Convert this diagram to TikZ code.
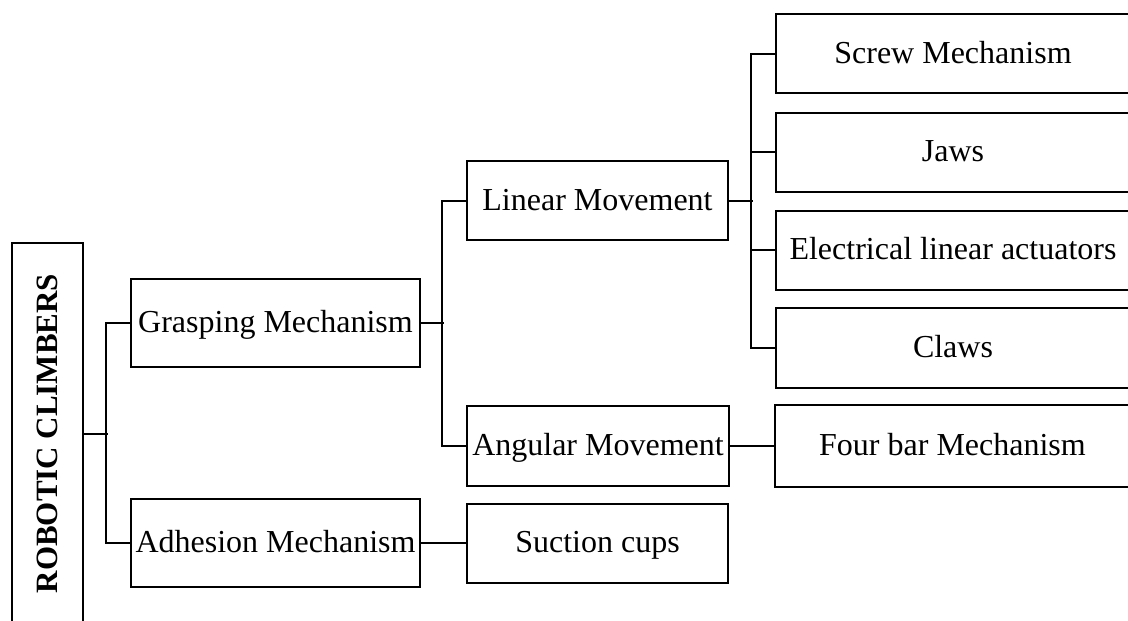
\documentclass[tikz,border=0pt]{standalone}
\usepackage{fontspec}
\setmainfont{Liberation Serif}
\begin{document}
\begin{tikzpicture}[x=1pt,y=-1pt,
  box/.style={draw, line width=2pt, inner sep=0pt, align=center, text height=24pt, text depth=5pt, font=\fontsize{32}{38}\selectfont},
  conn/.style={line width=2pt}]
\useasboundingbox (0,0) rectangle (1128,621);
\clip (0,0) rectangle (1128,621);
\fill[white] (0,0) rectangle (1128,621);
\node[draw, line width=2pt, inner sep=0pt, minimum width=71pt, minimum height=381pt] (root) at (47.5,433.5) {\rotatebox{90}{\fontsize{31}{36}\selectfont\bfseries ROBOTIC CLIMBERS}};
\node[box, minimum width=289pt, minimum height=88pt] (grasp) at (275.5,323) {Grasping Mechanism};
\node[box, minimum width=289pt, minimum height=88pt] (adh) at (275.5,543) {Adhesion Mechanism};
\node[box, minimum width=261pt, minimum height=79pt] (lin) at (597.5,200.5) {Linear Movement};
\node[box, minimum width=262pt, minimum height=80pt] (ang) at (598,446) {Angular Movement};
\node[box, minimum width=261pt, minimum height=79pt] (suct) at (597.5,543) {Suction cups};
\node[box, minimum width=354pt, minimum height=79pt] (screw) at (953,53.5) {Screw Mechanism};
\node[box, minimum width=354pt, minimum height=79pt] (jaws) at (953,152) {Jaws};
\node[box, minimum width=354pt, minimum height=79pt] (elec) at (953,250) {Electrical linear actuators};
\node[box, minimum width=354pt, minimum height=80pt] (claws) at (953,348) {Claws};
\node[box, minimum width=355pt, minimum height=82pt] (four) at (952.5,446) {Four bar Mechanism};
% connectors
\draw[conn] (root.east) -- ++(24,0);
\draw[conn] (grasp.west) -- ++(-24,0) |- (adh.west);
\draw[conn] (grasp.east) -- ++(23,0);
\draw[conn] (lin.west) -- ++(-24,0) |- (ang.west);
\draw[conn] (lin.east) -- ++(24,0);
\draw[conn] (screw.west) -- ++(-24,0) |- (claws.west);
\draw[conn] (jaws.west) -- ++(-24,0);
\draw[conn] (elec.west) -- ++(-24,0);
\draw[conn] (ang.east) -- (four.west);
\draw[conn] (adh.east) -- (suct.west);
\end{tikzpicture}
\end{document}
